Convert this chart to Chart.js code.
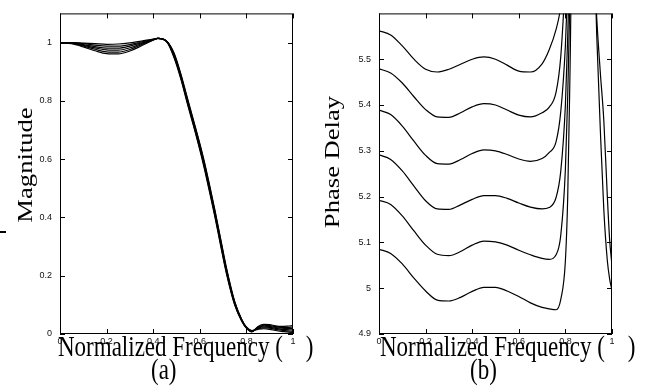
<!DOCTYPE html>
<html><head><meta charset="utf-8">
<script src="https://cdn.jsdelivr.net/npm/chart.js@4.4.1/dist/chart.umd.min.js"></script>
<style>
html,body{margin:0;padding:0;background:#fff;width:654px;height:389px;overflow:hidden;position:relative}
#c1{position:absolute;left:0;top:0}
#c2{position:absolute;left:327px;top:0}
.t{position:absolute;font-family:"Liberation Serif","Times New Roman",serif;color:#000;white-space:pre;line-height:1;margin:0}
.h{font-size:23px;transform-origin:0 0;transform:scaleY(1.28)}
.v{font-size:20px;width:200px;height:20px;text-align:center;transform-origin:50% 50%;transform:rotate(-90deg) scaleX(1.33)}
</style></head><body>
<canvas id="c1" width="327" height="389"></canvas>
<canvas id="c2" width="327" height="389"></canvas>
<div class="t h" style="left:58px;top:332px">Normalized Frequency (    )</div>
<div class="t h" style="left:380px;top:332px">Normalized Frequency (    )</div>
<div class="t h" style="left:151px;top:355px">(a)</div>
<div class="t h" style="left:470px;top:355px">(b)</div>
<div class="t v" style="left:-75px;top:155px">Magnitude</div>
<div class="t v" style="left:232px;top:152px">Phase Delay</div>
<script>
// ---- data ----
const freqTicks = [0, 0.2, 0.4, 0.6, 0.8, 1];
const magTicks = [0, 0.2, 0.4, 0.6, 0.8, 1];
const delayTicks = [4.9, 5, 5.1, 5.2, 5.3, 5.4, 5.5];

const freqMag = [0,0.05,0.1,0.15,0.2,0.25,0.3,0.35,0.4,0.42,0.46,0.49,0.52,0.545,0.575,0.6,0.62,0.645,0.665,0.69,0.715,0.75,0.78,0.8,0.823,0.85,0.875,0.9,0.925,0.95,0.975,1.0];
const mag1 = [1.000,1.000,0.998,0.996,0.994,0.995,0.999,1.005,1.012,1.014,1.003,0.963,0.889,0.815,0.728,0.654,0.590,0.500,0.425,0.325,0.225,0.111,0.050,0.024,0.012,0.016,0.018,0.016,0.012,0.009,0.007,0.004];
const mag2 = [1.000,0.999,0.996,0.991,0.988,0.988,0.993,1.002,1.011,1.014,1.003,0.960,0.885,0.811,0.724,0.650,0.585,0.495,0.420,0.320,0.221,0.109,0.049,0.023,0.011,0.018,0.021,0.020,0.016,0.013,0.011,0.009];
const mag3 = [1.000,0.998,0.993,0.986,0.981,0.981,0.988,0.999,1.010,1.014,1.002,0.957,0.882,0.807,0.720,0.645,0.580,0.490,0.415,0.315,0.217,0.106,0.048,0.022,0.010,0.020,0.024,0.023,0.019,0.016,0.015,0.014];
const mag4 = [1.000,0.997,0.990,0.982,0.975,0.974,0.982,0.996,1.010,1.014,1.002,0.953,0.878,0.803,0.716,0.641,0.576,0.486,0.411,0.311,0.213,0.104,0.046,0.021,0.009,0.022,0.027,0.026,0.022,0.020,0.019,0.019];
const mag5 = [1.000,0.997,0.988,0.977,0.968,0.967,0.976,0.993,1.009,1.014,1.001,0.950,0.875,0.799,0.712,0.636,0.571,0.481,0.406,0.306,0.209,0.101,0.045,0.021,0.008,0.024,0.030,0.029,0.025,0.023,0.023,0.024];
const mag6 = [1.000,0.996,0.985,0.972,0.962,0.961,0.971,0.989,1.008,1.014,1.001,0.947,0.871,0.795,0.708,0.632,0.566,0.476,0.401,0.301,0.205,0.099,0.044,0.020,0.007,0.026,0.033,0.032,0.028,0.026,0.027,0.029];

const freqDelay = [0,0.05,0.1,0.15,0.2,0.25,0.3,0.35,0.4,0.45,0.5,0.55,0.6,0.65,0.7,0.73,0.76,0.78,0.8,0.81,0.82,0.83,0.925,0.935,0.95,0.965,0.98,0.99,1.0];
const delay1 = [5.562,5.553,5.529,5.500,5.478,5.472,5.478,5.489,5.500,5.505,5.500,5.487,5.474,5.472,5.490,5.520,5.565,5.615,5.720,null,null,null,null,null,null,null,null,null,null];
const delay2 = [5.479,5.470,5.448,5.418,5.390,5.374,5.373,5.383,5.396,5.403,5.400,5.389,5.378,5.374,5.383,5.395,5.428,5.505,5.680,5.800,null,null,null,null,null,null,null,null,null];
const delay3 = [5.389,5.379,5.354,5.321,5.290,5.272,5.271,5.281,5.294,5.302,5.300,5.292,5.282,5.277,5.283,5.296,5.320,5.385,5.530,5.660,5.850,null,null,null,null,null,null,null,null];
const delay4 = [5.291,5.281,5.256,5.223,5.191,5.173,5.172,5.182,5.194,5.202,5.202,5.196,5.186,5.177,5.173,5.176,5.198,5.255,5.400,5.550,5.750,null,null,null,null,null,null,null,null];
const delay5 = [5.192,5.183,5.158,5.125,5.094,5.074,5.071,5.080,5.094,5.103,5.101,5.094,5.083,5.073,5.065,5.063,5.073,5.115,5.260,5.420,5.650,5.900,5.690,5.585,5.470,5.365,5.200,5.105,5.050];
const delay6 = [5.085,5.076,5.053,5.022,4.994,4.974,4.972,4.980,4.993,5.002,5.002,4.994,4.982,4.968,4.958,4.955,4.953,4.975,5.060,5.200,5.480,5.800,5.700,5.545,5.345,5.170,5.060,5.020,4.995];

const magSeries = [mag1, mag2, mag3, mag4, mag5, mag6];
const delaySeries = [delay1, delay2, delay3, delay4, delay5, delay6];

// ---- drawing ----
const tickFont = {family: '"Liberation Sans", Arial, sans-serif', size: 9};
const tickColor = '#111';

const framePlugin = {
  id: 'frame',
  afterDraw(chart, args, opts) {
    const {ctx, chartArea: a, scales: {x, y}} = chart;
    const L = 5;
    ctx.save();
    ctx.strokeStyle = '#000';
    ctx.lineWidth = 1;
    ctx.beginPath();
    x.ticks.forEach(t => {
      const px = Math.round(x.getPixelForValue(t.value)) + 0.5;
      ctx.moveTo(px, a.bottom); ctx.lineTo(px, a.bottom - L);
      ctx.moveTo(px, a.top); ctx.lineTo(px, a.top + L);
    });
    y.ticks.forEach(t => {
      const py = Math.round(y.getPixelForValue(t.value)) + 0.5;
      ctx.moveTo(a.left, py); ctx.lineTo(a.left + L, py);
      ctx.moveTo(a.right, py); ctx.lineTo(a.right - L, py);
    });
    ctx.stroke();
    ctx.strokeRect(a.left + 0.5, a.top + 0.5, a.right - a.left - 1, a.bottom - a.top - 1);
    if (opts && opts.dash) {
      ctx.fillStyle = '#000';
      ctx.fillRect(0, 231, 6, 2);
    }
    ctx.restore();
  }
};

function makeChart(id, freq, series, yMin, yMax, yTicks, yWidth, padRight, dash) {
  return new Chart(document.getElementById(id), {
    type: 'line',
    data: {
      datasets: series.map(s => ({
        data: freq.map((f, i) => ({x: f, y: s[i]})),
        borderColor: '#000',
        borderWidth: 1.2,
        pointRadius: 0,
        fill: false,
        cubicInterpolationMode: 'monotone',
        spanGaps: false
      }))
    },
    options: {
      responsive: false,
      animation: false,
      devicePixelRatio: 1,
      layout: {padding: {left: 0, right: padRight, top: 5, bottom: 0}},
      plugins: {legend: {display: false}, tooltip: {enabled: false}, frame: {dash: dash}},
      scales: {
        x: {
          type: 'linear', min: 0, max: 1,
          grid: {display: false, drawTicks: false}, border: {display: false},
          afterBuildTicks: s => { s.ticks = freqTicks.map(v => ({value: v})); },
          afterFit: s => { s.height = 55; },
          ticks: {font: tickFont, color: tickColor, padding: 2, maxRotation: 0, autoSkip: false,
                  callback: v => String(v)}
        },
        y: {
          type: 'linear', min: yMin, max: yMax,
          grid: {display: false, drawTicks: false}, border: {display: false},
          afterBuildTicks: s => { s.ticks = yTicks.map(v => ({value: v})); },
          afterFit: s => { s.width = yWidth; },
          ticks: {font: tickFont, color: tickColor, padding: 8, autoSkip: false,
                  callback: v => String(v)}
        }
      }
    },
    plugins: [framePlugin]
  });
}

makeChart('c1', freqMag, magSeries, 0, 1.1, magTicks, 60, 34, true);
makeChart('c2', freqDelay, delaySeries, 4.9, 5.6, delayTicks, 52, 42, false);
</script>
</body></html>
